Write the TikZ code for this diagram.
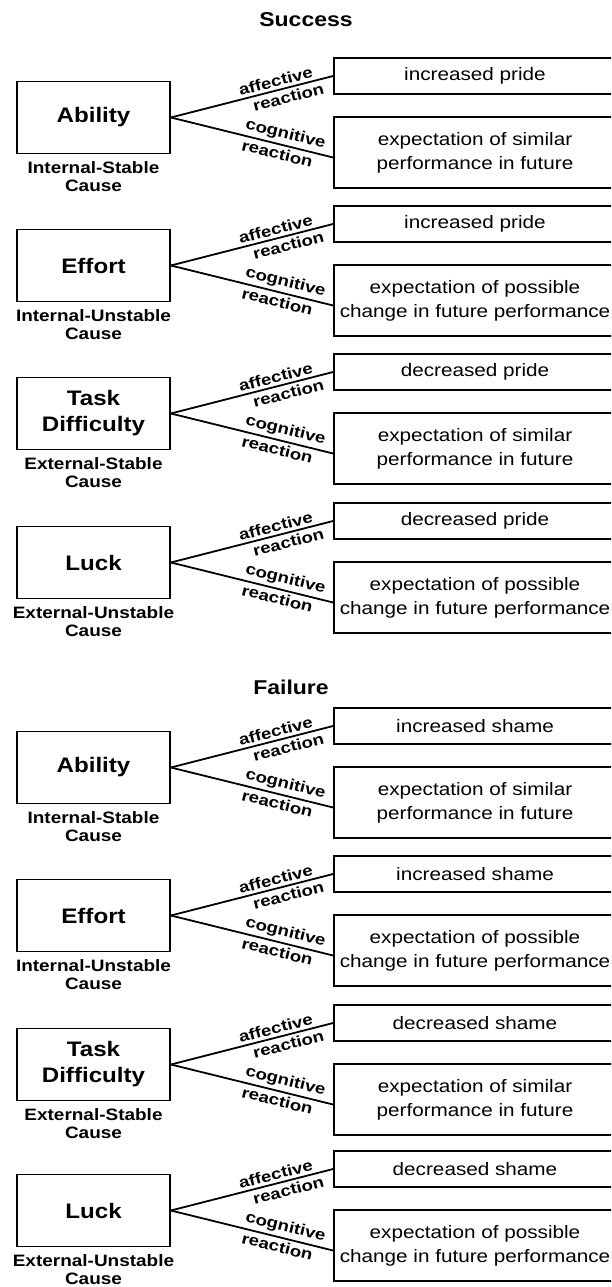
\documentclass[tikz,border=0pt]{standalone}
\usepackage{fontspec}
\setmainfont[FakeStretch=1.15]{Liberation Sans}
\newfontfamily\lblfont[FakeStretch=1.2]{Liberation Sans}

\newcommand\drawblock[6]{%
  \node[causebox] (#1c) at (93.5,#2+59.5) {#3};
  \node[causelbl] (#1l) at (93.5,#2+118.5) {#4\\Cause};
  \node[onebox] (#1a) at (475,#2+18) {#5};
  \node[twobox] (#1g) at (475,#2+94.5) {#6};
  \draw (#1c.east) -- node[edgelbl, above, pos=0.66]{affective} node[edgelbl, below, pos=0.71]{reaction} (#1a.west);
  \draw (#1c.east) -- node[edgelbl, above, pos=0.69]{cognitive} node[edgelbl, below, pos=0.67]{reaction} ([yshift=-5pt]#1g.west);
}

\begin{document}
\begin{tikzpicture}[x=1pt,y=-1pt, line width=1.8pt,
  causebox/.style={draw, minimum width=153pt, minimum height=72pt, font=\bfseries\fontsize{21}{26}\selectfont, align=center, inner sep=0pt},
  outbox/.style={draw, minimum width=282pt, font=\fontsize{18}{24}\selectfont, align=center, inner sep=0pt},
  onebox/.style={outbox, minimum height=36pt},
  twobox/.style={outbox, minimum height=71pt},
  causelbl/.style={font=\bfseries\fontsize{16.5}{18}\selectfont, align=center, inner sep=0pt},
  edgelbl/.style={font=\lblfont\bfseries\fontsize{15.5}{15.5}\selectfont, sloped, inner sep=2.8pt},
  heading/.style={font=\bfseries\fontsize{20}{24}\selectfont, anchor=base}
]
\useasboundingbox (0,0) rectangle (611,1287);
\fill[white] (0,0) rectangle (611,1287);
\clip (0,0) rectangle (611,1287);

\node[heading] (succ) at (306,27) {Success};
\drawblock{sa}{58}{Ability}{Internal-Stable}{increased pride}{expectation of similar\\performance in future}
\drawblock{se}{206}{Effort}{Internal-Unstable}{increased pride}{expectation of possible\\change in future performance}
\drawblock{st}{354}{Task\\Difficulty}{External-Stable}{decreased pride}{expectation of similar\\performance in future}
\drawblock{sl}{503}{Luck}{External-Unstable}{decreased pride}{expectation of possible\\change in future performance}

\node[heading] (fail) at (291,694) {Failure};
\drawblock{fa}{708}{Ability}{Internal-Stable}{increased shame}{expectation of similar\\performance in future}
\drawblock{fe}{856}{Effort}{Internal-Unstable}{increased shame}{expectation of possible\\change in future performance}
\drawblock{ft}{1005}{Task\\Difficulty}{External-Stable}{decreased shame}{expectation of similar\\performance in future}
\drawblock{fl}{1151}{Luck}{External-Unstable}{decreased shame}{expectation of possible\\change in future performance}
\end{tikzpicture}
\end{document}
